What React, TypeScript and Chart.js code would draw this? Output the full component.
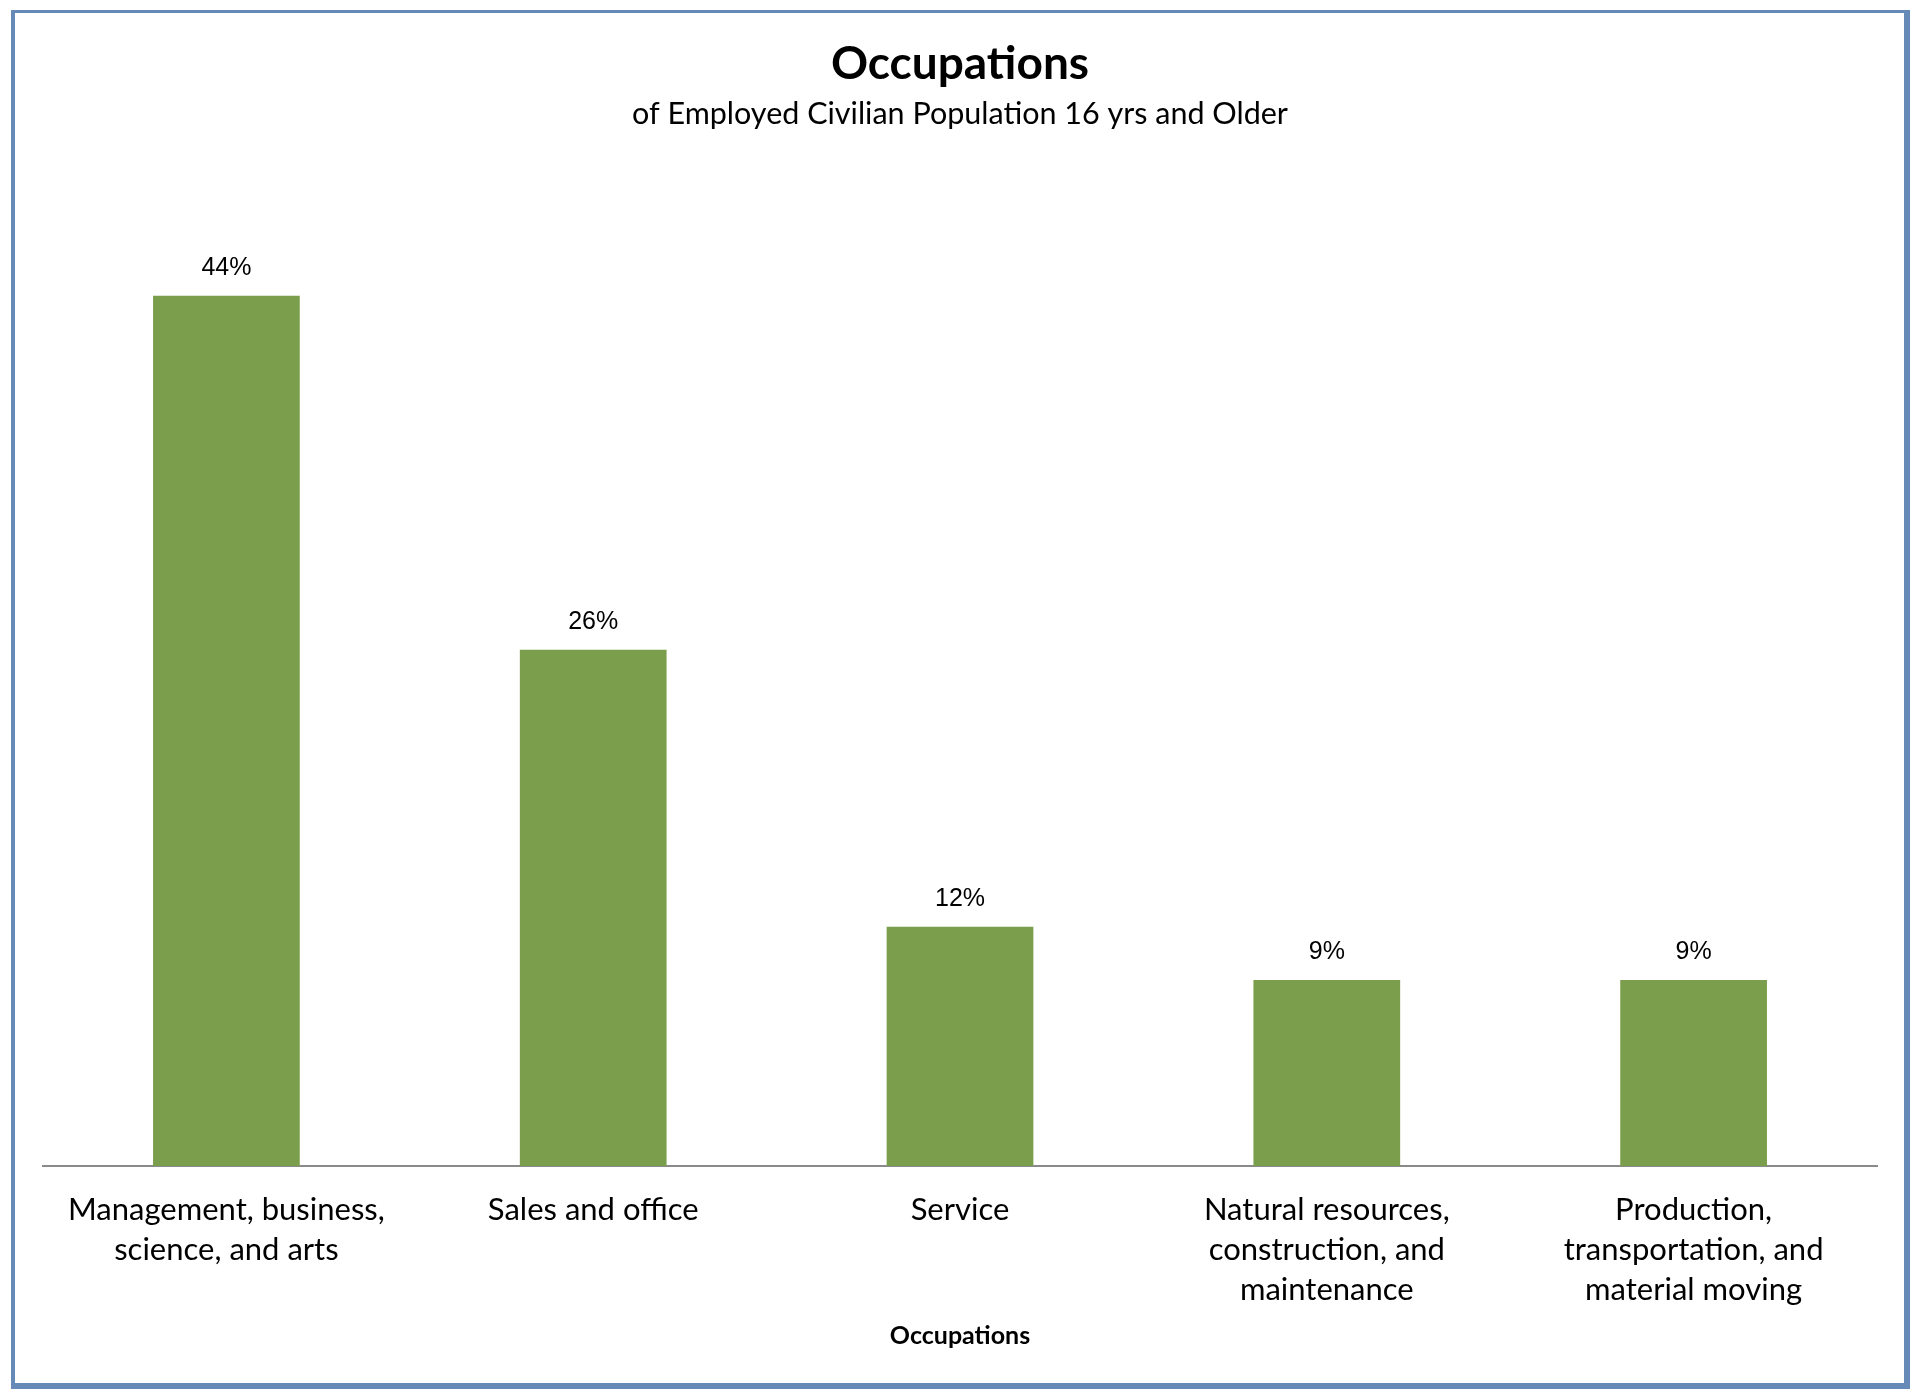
import React, { useEffect, useRef } from "react";
import { Chart, registerables } from "chart.js";

Chart.register(...registerables);

const chartTitle = "Occupations";
const chartSubtitle = "of Employed Civilian Population 16 yrs and Older";
const axisTitle = "Occupations";

const categories: (string | string[])[] = [
  ["Management, business,", "science, and arts"],
  "Sales and office",
  "Service",
  ["Natural resources,", "construction, and", "maintenance"],
  ["Production,", "transportation, and", "material moving"],
];

const values = [44.0, 26.1, 12.1, 9.4, 9.4];
const valueLabels = ["44%", "26%", "12%", "9%", "9%"];

const yMin = 0;
const yMax = 50;

const dataLabelPlugin = {
  id: "dataLabels",
  afterDatasetsDraw(chart: any) {
    const ctx = chart.ctx;
    const meta = chart.getDatasetMeta(0);
    ctx.save();
    ctx.font = "25px 'Liberation Sans', Arial, sans-serif";
    ctx.fillStyle = "#000000";
    ctx.textAlign = "center";
    ctx.textBaseline = "middle";
    meta.data.forEach((bar: any, i: number) => {
      ctx.fillText(valueLabels[i], bar.x, bar.y - 28);
    });
    ctx.restore();
  },
};

export default function App() {
  const canvasRef = useRef<HTMLCanvasElement | null>(null);

  useEffect(() => {
    if (!canvasRef.current) return;
    const chart = new Chart(canvasRef.current, {
      type: "bar",
      data: {
        labels: categories as any,
        datasets: [
          {
            data: values,
            backgroundColor: "#7b9e4c",
            borderWidth: 0,
            barPercentage: 0.4,
            categoryPercentage: 1,
          },
        ],
      },
      options: {
        responsive: false,
        maintainAspectRatio: false,
        animation: false,
        layout: { padding: { left: 43, right: 43, top: 0, bottom: 0 } },
        plugins: {
          legend: { display: false },
          tooltip: { enabled: false },
          title: {
            display: true,
            text: chartTitle,
            color: "#000000",
            font: { family: "Lato", size: 46, weight: "bold", lineHeight: 1.2 },
            padding: { top: 36.4, bottom: 0 },
          },
          subtitle: {
            display: true,
            text: chartSubtitle,
            color: "#000000",
            font: { family: "Lato", size: 30.5, weight: "normal", lineHeight: 1.2 },
            padding: { top: 4.1, bottom: 44.7 },
          },
        },
        scales: {
          x: {
            grid: { display: false, drawTicks: false },
            border: { display: true, color: "#8a8a8a", width: 2 },
            ticks: {
              color: "#000000",
              font: { family: "Lato", size: 31, lineHeight: "40px" as any },
              padding: 24,
              maxRotation: 0,
              minRotation: 0,
              autoSkip: false,
            },
            title: {
              display: true,
              text: axisTitle,
              color: "#000000",
              font: { family: "Lato", size: 25, weight: "bold", lineHeight: 1.2 },
              padding: { top: -13, bottom: 45 },
            },
          },
          y: { display: false, min: yMin, max: yMax },
        },
      },
      plugins: [dataLabelPlugin],
    });
    return () => chart.destroy();
  }, []);

  return (
    <div style={{ position: "absolute", left: 0, top: 0, width: 1920, height: 1396, background: "#ffffff" }}>
      <canvas
        ref={canvasRef}
        width={1920}
        height={1396}
        style={{ position: "absolute", left: 0, top: 0, width: 1920, height: 1396 }}
      />
      <div
        style={{
          position: "absolute",
          left: 11,
          top: 10,
          width: 1899,
          height: 1379,
          boxSizing: "border-box",
          borderStyle: "solid",
          borderColor: "#658ab8",
          borderTopWidth: 3,
          borderLeftWidth: 4,
          borderRightWidth: 6,
          borderBottomWidth: 6,
          pointerEvents: "none",
        }}
      />
    </div>
  );
}
